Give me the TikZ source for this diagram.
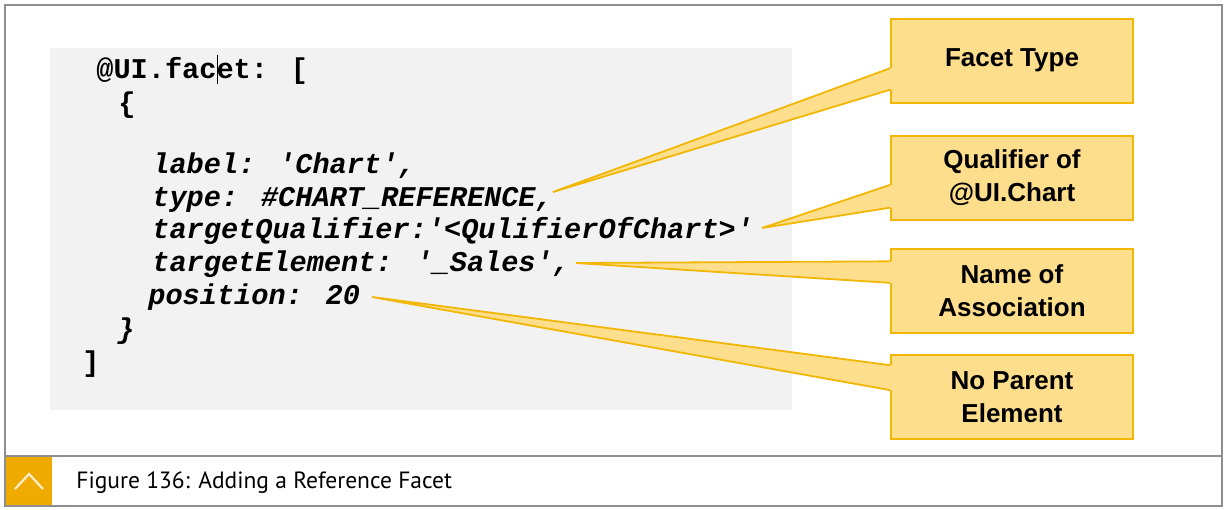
\documentclass[tikz,border=0pt]{standalone}
\usepackage{fontspec}
\setmainfont{Liberation Sans}
\newfontfamily\codefont{Liberation Mono}
\newfontfamily\capfont{PT Sans}
\usetikzlibrary{calc,positioning}
\definecolor{sapgold}{HTML}{F0AB00}
\definecolor{boxedge}{HTML}{F2B705}
\definecolor{boxfill}{HTML}{FDDE8C}
\definecolor{codebg}{HTML}{F2F2F2}
\definecolor{framegray}{HTML}{8E8E8E}

\begin{document}
\begin{tikzpicture}[x=0.5pt,y=-0.5pt,
    codeup/.style={anchor=base west, inner sep=0pt, font=\codefont\bfseries\fontsize{14.3pt}{16pt}\selectfont},
    codeit/.style={codeup, font=\codefont\bfseries\itshape\fontsize{14.3pt}{16pt}\selectfont},
    callbox/.style={draw=boxedge, fill=boxfill, line width=1pt, minimum width=121pt, minimum height=42pt,
      align=center, font=\bfseries\fontsize{13pt}{16.5pt}\selectfont},
    callline/.style={draw=boxedge, line width=0.9pt, line join=miter}]
  \useasboundingbox (0,0) rectangle (1225,509);
  % frame and code background
  \draw[framegray, line width=1pt] (4.5,5) rectangle (1221.5,505.5);
  \draw[framegray, line width=1pt] (4.5,456) -- (1221.5,456);
  \fill[codebg] (50,48) rectangle (792,410);
  % code lines
  \node[codeup] (facet) at (96,78) {@UI.facet: [};
  \node[codeup] (obrace) at (118,112) {\{};
  \node[codeit] (label) at (152,173) {label: 'Chart',};
  \node[codeit] (type) at (152,206) {type: \#CHART\_REFERENCE,};
  \node[codeit] (qual) at (152,238) {targetQualifier:'<QulifierOfChart>'};
  \node[codeit] (elem) at (152,271) {targetElement: '\_Sales',};
  \node[codeit] (pos) at (148,304) {position: 20};
  \node[codeit] (cbrace) at (117,338) {\}};
  \node[codeup] (cbrack) at (82,371) {]};
  \draw[line width=0.5pt] (217,55) -- (217,84);
  % callout boxes
  \node[callbox] (ftype) at (1012,60.5) {Facet Type};
  \node[callbox] (qualof) at (1012,178) {Qualifier of\\@UI.Chart};
  \node[callbox] (assoc) at (1012,291) {Name of\\Association};
  \node[callbox] (parent) at (1012,397) {No Parent\\Element};
  % pointer tips
  \coordinate (tipType) at (553,192);
  \coordinate (tipQual) at (762,228);
  \coordinate (tipElem) at (576,263);
  \coordinate (tipPos) at (372,297);
  % wedge bases on the boxes
  \coordinate (ftypeA) at ($(ftype.south west)!0.41!(ftype.north west)$);
  \coordinate (ftypeB) at ($(ftype.south west)!0.16!(ftype.north west)$);
  \coordinate (qualofA) at ($(qualof.south west)!0.42!(qualof.north west)$);
  \coordinate (qualofB) at ($(qualof.south west)!0.155!(qualof.north west)$);
  \coordinate (assocA) at ($(assoc.south west)!0.845!(assoc.north west)$);
  \coordinate (assocB) at ($(assoc.south west)!0.595!(assoc.north west)$);
  \coordinate (parentA) at ($(parent.south west)!0.87!(parent.north west)$);
  \coordinate (parentB) at ($(parent.south west)!0.58!(parent.north west)$);
  % wedges
  \fill[boxfill] (tipType) -- (ftypeA) -- ($(ftypeA)+(4,0)$) -- ($(ftypeB)+(4,0)$) -- (ftypeB) -- cycle;
  \draw[callline] (ftypeA) -- (tipType) -- (ftypeB);
  \fill[boxfill] (tipQual) -- (qualofA) -- ($(qualofA)+(4,0)$) -- ($(qualofB)+(4,0)$) -- (qualofB) -- cycle;
  \draw[callline] (qualofA) -- (tipQual) -- (qualofB);
  \fill[boxfill] (tipElem) -- (assocA) -- ($(assocA)+(4,0)$) -- ($(assocB)+(4,0)$) -- (assocB) -- cycle;
  \draw[callline] (assocA) -- (tipElem) -- (assocB);
  \fill[boxfill] (tipPos) -- (parentA) -- ($(parentA)+(4,0)$) -- ($(parentB)+(4,0)$) -- (parentB) -- cycle;
  \draw[callline] (parentA) -- (tipPos) -- (parentB);
  % caption bar
  \fill[sapgold] (6,457) rectangle (52,505);
  \draw[white!80!sapgold, line width=1.1pt] (15,489) -- (29,474) -- (43,489);
  \node[anchor=base west, inner sep=0pt, font=\capfont\fontsize{11.75pt}{14pt}\selectfont] (caption) at (76,488)
    {Figure 136: Adding a Reference Facet};
\end{tikzpicture}
\end{document}
